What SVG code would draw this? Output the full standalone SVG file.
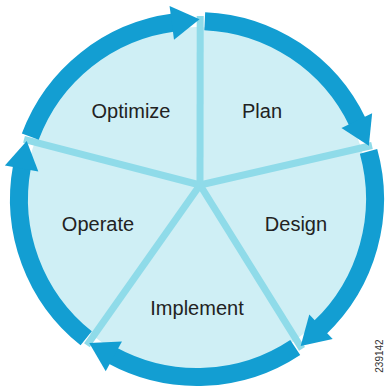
<svg xmlns="http://www.w3.org/2000/svg" width="388" height="390" viewBox="0 0 388 390">
<defs>
<style>
.disk{fill:#cfeff5}
.spoke{stroke:#8fdbe9;stroke-width:7;stroke-linecap:butt;fill:none}
.ring{stroke:#139ed2;stroke-width:18;fill:none;stroke-linecap:butt}
.lbl{font-family:"Liberation Sans",Arial,sans-serif;font-size:20px;fill:#222;text-anchor:middle}
.fig{font-family:"Liberation Sans",Arial,sans-serif;font-size:10px;fill:#333;text-anchor:middle}
</style>
<marker id="head" markerUnits="userSpaceOnUse" markerWidth="32" markerHeight="38" viewBox="-3 -19 32 38" refX="0" refY="0" orient="auto" overflow="visible">
<path d="M-2,-17 L26,0 L-2,17 Z" fill="#139ed2"/>
</marker>
</defs>
<rect width="388" height="390" fill="#ffffff"/>
<circle class="disk" cx="197" cy="199" r="172"/>
<g id="spokes">
<path class="spoke" d="M200,185 L200.2,16"/>
<path class="spoke" d="M200,185 L372,145.5"/>
<path class="spoke" d="M200,185 L302,348.9"/>
<path class="spoke" d="M200,185 L86.9,345.2"/>
<path class="spoke" d="M200,185 L24,139.4"/>
</g>
<g id="connectors">
<path class="ring" marker-end="url(#head)" d="M204.76,21.17 A178,178 0 0 1 357.66,122.37"/>
<path class="ring" marker-end="url(#head)" d="M368.53,151.43 A178,178 0 0 1 319.53,328.12"/>
<path class="ring" marker-end="url(#head)" d="M295.25,347.43 A178,178 0 0 1 112.07,355.43"/>
<path class="ring" marker-end="url(#head)" d="M86.19,338.30 A178,178 0 0 1 21.98,166.56"/>
<path class="ring" marker-end="url(#head)" d="M30.27,136.66 A178,178 0 0 1 173.77,22.52"/>
</g>
<g id="node-plan"><text class="lbl" x="262" y="118">Plan</text></g>
<g id="node-design"><text class="lbl" x="296" y="231">Design</text></g>
<g id="node-implement"><text class="lbl" x="197" y="315">Implement</text></g>
<g id="node-operate"><text class="lbl" x="98" y="231">Operate</text></g>
<g id="node-optimize"><text class="lbl" x="131" y="118">Optimize</text></g>
<text class="fig" transform="translate(383,356) rotate(-90)">239142</text>
</svg>
